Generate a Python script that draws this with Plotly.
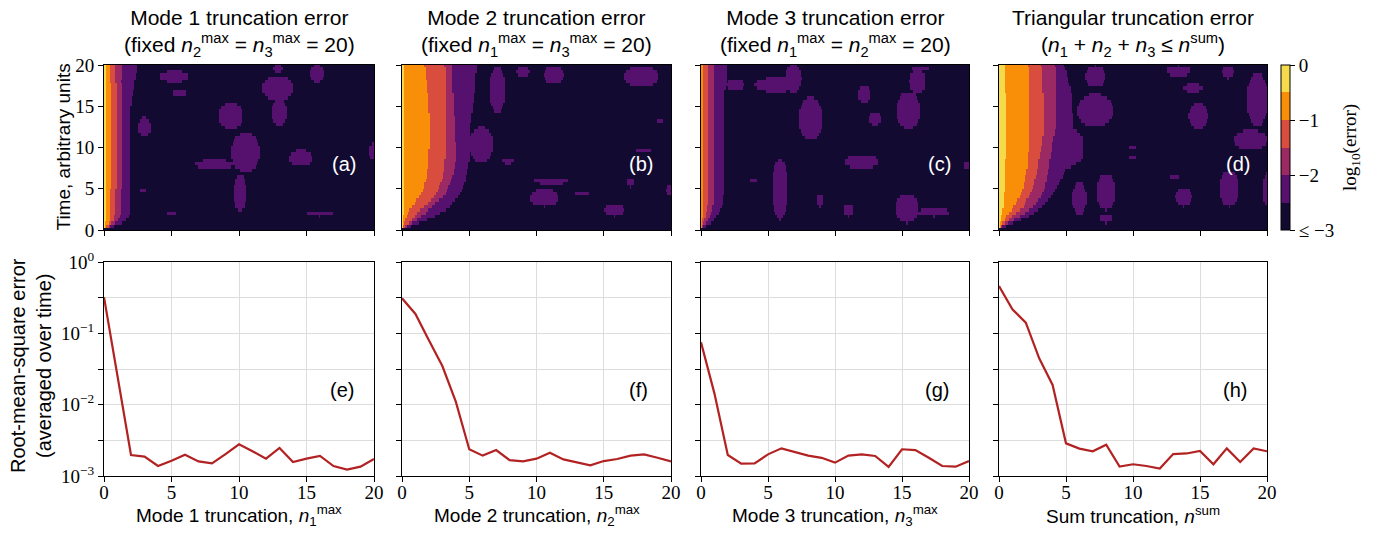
import numpy as np
import plotly.graph_objects as go

# ---------------- line-plot data (RMS error averaged over time) ----------------
n_trunc = list(range(21))
rms_mode1 = [0.32, 0.025, 1.97e-3, 1.87e-3, 1.38e-3, 1.64e-3, 1.99e-3, 1.60e-3, 1.50e-3, 2.03e-3,
             2.78e-3, 2.22e-3, 1.75e-3, 2.47e-3, 1.57e-3, 1.75e-3, 1.91e-3, 1.38e-3, 1.23e-3, 1.35e-3, 1.73e-3]
rms_mode2 = [0.31, 0.187, 0.080, 0.0348, 0.011, 2.37e-3, 1.93e-3, 2.31e-3, 1.67e-3, 1.60e-3,
             1.75e-3, 2.12e-3, 1.71e-3, 1.55e-3, 1.41e-3, 1.62e-3, 1.73e-3, 1.93e-3, 2.01e-3, 1.80e-3, 1.60e-3]
rms_mode3 = [0.0748, 0.0144, 1.97e-3, 1.49e-3, 1.50e-3, 2.01e-3, 2.44e-3, 2.17e-3, 1.93e-3, 1.80e-3,
             1.54e-3, 1.93e-3, 2.01e-3, 1.91e-3, 1.34e-3, 2.37e-3, 2.31e-3, 1.80e-3, 1.38e-3, 1.35e-3, 1.62e-3]
rms_sum = [0.461, 0.217, 0.141, 0.0446, 0.0189, 2.87e-3, 2.42e-3, 2.22e-3, 2.75e-3, 1.36e-3,
           1.46e-3, 1.38e-3, 1.27e-3, 2.03e-3, 2.07e-3, 2.24e-3, 1.46e-3, 2.44e-3, 1.57e-3, 2.44e-3, 2.22e-3]

x_ticks = [0, 5, 10, 15, 20]
time_ticks = [0, 5, 10, 15, 20]
cbar_tickvals = [-3, -2, -1, 0]
cbar_ticktext = ["≤ −3", "−2", "−1", "0"]
log_major = [-3, -2, -1, 0]
log_minor = [-2.5, -1.5, -0.5]
log_ticktext = ["10<sup>−3</sup>", "10<sup>−2</sup>", "10<sup>−1</sup>", "10<sup>0</sup>"]

# ---------------- heatmap data: contour-band edges (x where log10 error crosses a level) ----------------
# levels: -0.5 (yellow edge), -1 (orange), -1.5 (red), -2 (magenta), -2.5 (purple)
t_edge_a = [0, 0.4, 1.0, 2.0, 5, 10, 15, 18, 20]
yellow_a = [0, 0.05, 0.1, 0.15, 0.15, 0.15, 0.15, 0.15, 0.15]
orange_a = [0, 0.2, 0.4, 0.5, 0.5, 0.55, 0.55, 0.5, 0.5]
red_a = [0, 0.35, 0.7, 0.85, 0.9, 0.95, 0.95, 0.9, 0.9]
magenta_a = [0, 0.5, 1.0, 1.25, 1.3, 1.35, 1.35, 1.3, 1.35]
purple_a = [0, 0.8, 1.6, 2.0, 2.0, 1.95, 2.0, 2.3, 2.5]
blobs_a = [(3.0, 12.5, 0.45, 1.2), (5.2, 18.6, 1.1, 0.7), (5.6, 16.6, 0.6, 0.35), (9.4, 13.8, 0.9, 1.6),
           (10.5, 9.4, 1.1, 2.4), (8.2, 7.9, 1.5, 0.6), (10.1, 4.5, 0.45, 2.3), (12.9, 17.2, 1.15, 1.6),
           (13.0, 14.3, 0.6, 1.6), (12.9, 19.6, 0.35, 0.5), (14.6, 8.7, 0.9, 1.0), (15.8, 19.0, 0.55, 1.1),
           (20.0, 9.5, 0.4, 1.0), (16.0, 1.9, 1.0, 0.3), (2.9, 4.9, 0.3, 0.2), (5.0, 2.0, 0.35, 0.15)]

t_edge_b = [0, 0.6, 1.6, 2.8, 3.6, 4.4, 6.5, 8.5, 12.5, 16.6, 20]
yellow_b = [0, 0.05, 0.1, 0.15, 0.15, 0.15, 0.15, 0.15, 0.15, 0.15, 0.15]
orange_b = [0, 0.15, 0.35, 0.7, 1.1, 1.46, 1.83, 1.96, 2.08, 1.9, 1.7]
red_b = [0, 0.4, 0.97, 1.6, 2.2, 2.6, 3.07, 3.2, 3.3, 3.25, 3.2]
magenta_b = [0, 0.6, 1.46, 2.2, 2.8, 3.3, 3.8, 4.06, 3.95, 3.8, 3.8]
purple_b = [0, 1.0, 2.45, 3.6, 3.94, 4.4, 4.8, 5.06, 5.06, 5.4, 5.55]
blobs_b = [(7.1, 17.0, 0.6, 2.9), (9.0, 19.2, 0.5, 0.6), (11.3, 18.8, 0.75, 1.1), (17.8, 18.6, 1.3, 1.3),
           (5.9, 10.3, 0.9, 2.2), (7.9, 8.3, 0.45, 0.4), (10.6, 3.9, 1.05, 1.1), (11.1, 5.9, 1.3, 0.4),
           (17.0, 5.7, 0.3, 0.5), (18.0, 9.7, 0.6, 0.25), (15.8, 2.4, 0.7, 0.8), (20.0, 4.8, 0.3, 0.7),
           (13.4, 4.4, 0.5, 0.4), (19.2, 13.2, 0.25, 0.2)]

t_edge_c = [0, 0.6, 1.6, 2.8, 5, 10, 15, 17, 18.5, 20]
yellow_c = [0, 0, 0, 0, 0, 0, 0, 0, 0, 0]
orange_c = [0, 0.05, 0.12, 0.18, 0.2, 0.2, 0.2, 0.2, 0.2, 0.2]
red_c = [0, 0.15, 0.35, 0.5, 0.55, 0.55, 0.55, 0.55, 0.55, 0.55]
magenta_c = [0, 0.3, 0.7, 0.9, 1.0, 1.0, 1.0, 1.0, 1.0, 1.0]
purple_c = [0, 0.6, 1.2, 1.6, 1.75, 1.75, 1.75, 1.8, 2.0, 2.0]
blobs_c = [(5.6, 17.6, 1.6, 0.9), (6.9, 18.4, 0.6, 1.7), (8.2, 13.5, 0.9, 2.6), (12.2, 16.5, 0.5, 1.1),
           (13.0, 13.5, 0.45, 0.8), (15.5, 14.5, 0.9, 2.3), (16.2, 18.0, 0.6, 1.5), (16.4, 19.5, 0.7, 0.3),
           (5.9, 4.9, 0.6, 3.7), (12.0, 8.3, 1.3, 0.9), (15.4, 2.6, 0.9, 1.8), (17.4, 2.1, 1.2, 0.5),
           (18.2, 4.2, 0.4, 0.2), (8.9, 3.6, 0.25, 0.8), (11.0, 2.4, 0.35, 0.8), (19.9, 7.8, 0.25, 0.5),
           (3.9, 6.0, 0.25, 0.2), (2.6, 17.6, 0.7, 0.6)]

t_edge_d = [0, 0.6, 1.6, 2.8, 4.4, 7.3, 8.5, 11.3, 12.3, 14.3, 16.6, 20]
yellow_d = [0, 0.05, 0.2, 0.35, 0.4, 0.5, 0.5, 0.55, 0.55, 0.55, 0.5, 0.45]
orange_d = [0, 0.2, 0.6, 1.07, 1.7, 2.1, 2.15, 2.3, 2.3, 2.3, 2.25, 2.2]
red_d = [0, 0.3, 1.0, 1.8, 2.4, 2.9, 3.0, 3.3, 3.35, 3.4, 3.3, 3.2]
magenta_d = [0, 0.45, 1.57, 2.6, 3.3, 3.7, 3.8, 4.06, 4.2, 4.3, 4.25, 4.2]
purple_d = [0, 0.8, 2.3, 3.3, 4.06, 5.0, 6.3, 6.3, 5.6, 5.5, 5.4, 4.9]
blobs_d = [(7.2, 18.6, 0.75, 1.4), (7.2, 14.5, 1.35, 2.0), (13.4, 19.3, 0.9, 0.7), (14.5, 17.2, 0.75, 0.5),
           (14.9, 13.8, 0.75, 1.6), (17.1, 19.2, 0.45, 0.8), (19.3, 15.8, 0.8, 3.3), (18.8, 10.9, 1.3, 1.2),
           (17.2, 5.0, 0.7, 2.2), (13.8, 4.0, 0.6, 1.2), (13.1, 6.5, 0.35, 0.2), (20.0, 4.9, 0.3, 2.0),
           (6.0, 3.8, 0.55, 2.0), (8.0, 4.6, 0.7, 2.2), (8.0, 1.4, 0.45, 0.6), (10.0, 9.9, 0.3, 0.2),
           (10.0, 8.7, 0.3, 0.2)]

band_colors = ["#120a31", "#56106e", "#9b2964", "#d94d3e", "#f98e09", "#f5db4b"]
line_color = "#b22222"

top_titles = [
    "Mode 1 truncation error<br>(fixed <i>n</i><sub>2</sub><sup>max</sup> = <i>n</i><sub>3</sub><sup>max</sup> = 20)",
    "Mode 2 truncation error<br>(fixed <i>n</i><sub>1</sub><sup>max</sup> = <i>n</i><sub>3</sub><sup>max</sup> = 20)",
    "Mode 3 truncation error<br>(fixed <i>n</i><sub>1</sub><sup>max</sup> = <i>n</i><sub>2</sub><sup>max</sup> = 20)",
    "Triangular truncation error<br>(<i>n</i><sub>1</sub> + <i>n</i><sub>2</sub> + <i>n</i><sub>3</sub> ≤ <i>n</i><sup>sum</sup>)",
]
x_titles = [
    "Mode 1 truncation, <i>n</i><sub>1</sub><sup>max</sup>",
    "Mode 2 truncation, <i>n</i><sub>2</sub><sup>max</sup>",
    "Mode 3 truncation, <i>n</i><sub>3</sub><sup>max</sup>",
    "Sum truncation, <i>n</i><sup>sum</sup>",
]
top_labels = ["(a)", "(b)", "(c)", "(d)"]
bottom_labels = ["(e)", "(f)", "(g)", "(h)"]

# ---------------- build gridded band maps from the edges ----------------
xg = np.linspace(0, 20, 201)
tg = np.linspace(0, 20, 51)


def build_field(tk, edges, blobs):
    X, T = np.meshgrid(xg, tg)
    band = np.zeros_like(X)
    for e in edges:
        ev = np.interp(tg, tk, e)[:, None]
        band += (X < ev)
    for bx, bt, wx, wt in blobs:
        inside = ((X - bx) / wx) ** 2 + ((T - bt) / wt) ** 2 <= 1
        band = np.where(inside, np.maximum(band, 1), band)
    return -2.75 + 0.5 * band


fields = [
    build_field(t_edge_a, [yellow_a, orange_a, red_a, magenta_a, purple_a], blobs_a),
    build_field(t_edge_b, [yellow_b, orange_b, red_b, magenta_b, purple_b], blobs_b),
    build_field(t_edge_c, [yellow_c, orange_c, red_c, magenta_c, purple_c], blobs_c),
    build_field(t_edge_d, [yellow_d, orange_d, red_d, magenta_d, purple_d], blobs_d),
]

colorscale = []
for i, c in enumerate(band_colors):
    colorscale.append([i / 6, c])
    colorscale.append([(i + 1) / 6, c])

# ---------------- layout geometry ----------------
W, H = 1385, 533
ML, MR, MT, MB = 104, 118, 65, 57
PW = W - ML - MR
PH = H - MT - MB
col_px = [(104, 374), (402, 671), (701, 969), (999, 1267)]
top_px = (65, 230)
bot_px = (262, 476)


def fx(px):
    return (px - ML) / PW


def fy(py):
    return (H - MB - py) / PH


sans = "Liberation Sans, Arial, sans-serif"
serif = "Liberation Serif, DejaVu Serif, serif"

fig = go.Figure()
layout = dict(
    width=W, height=H,
    margin=dict(l=ML, r=MR, t=MT, b=MB),
    paper_bgcolor="white", plot_bgcolor="white",
    showlegend=False,
    font=dict(family=sans, size=19, color="black"),
)
annotations = []

for i in range(4):
    xa_top = "x%d" % (i + 1) if i > 0 else "x"
    ya_top = "y%d" % (i + 1) if i > 0 else "y"
    xa_bot = "x%d" % (i + 5)
    ya_bot = "y%d" % (i + 5)
    dom_x = [fx(col_px[i][0]), fx(col_px[i][1])]

    hm = dict(
        x=xg, y=tg, z=fields[i], colorscale=colorscale, zmin=-3, zmax=0,
        xaxis=xa_top, yaxis=ya_top, hoverinfo="skip", showscale=(i == 0),
    )
    if i == 0:
        hm["colorbar"] = dict(
            x=fx(1281), xanchor="left", xpad=0, ypad=0,
            y=fy(147.5), yanchor="middle", len=165, lenmode="pixels",
            thickness=9, outlinewidth=1, outlinecolor="black",
            tickvals=cbar_tickvals, ticktext=cbar_ticktext, ticks="outside",
            ticklen=5, tickcolor="black", tickfont=dict(family=serif, size=19),
        )
    fig.add_trace(go.Heatmap(**hm))

    rms = [rms_mode1, rms_mode2, rms_mode3, rms_sum][i]
    fig.add_trace(go.Scatter(x=n_trunc, y=rms, mode="lines", line=dict(color=line_color, width=2.2),
                             xaxis=xa_bot, yaxis=ya_bot, hoverinfo="skip"))

    axis_common = dict(showline=True, mirror=True, linecolor="black", linewidth=1,
                       ticks="outside", ticklen=5, tickcolor="black", zeroline=False)

    layout["xaxis%s" % ("" if i == 0 else i + 1)] = dict(
        domain=dom_x, range=[0, 20], tickvals=x_ticks, showticklabels=False, showgrid=False,
        anchor=ya_top, **axis_common)
    layout["yaxis%s" % ("" if i == 0 else i + 1)] = dict(
        domain=[fy(top_px[1]), fy(top_px[0])], range=[0, 20], tickvals=time_ticks,
        showticklabels=(i == 0), showgrid=False, anchor=xa_top,
        tickfont=dict(family=serif, size=19), **axis_common)
    layout["xaxis%d" % (i + 5)] = dict(
        domain=dom_x, range=[0, 20], tickvals=x_ticks, showgrid=True, gridcolor="#dddddd",
        gridwidth=1, anchor=ya_bot, tickfont=dict(family=serif, size=19),
        ticklabelstandoff=-6, **axis_common)
    layout["yaxis%d" % (i + 5)] = dict(
        domain=[fy(bot_px[1]), fy(bot_px[0])], type="log", range=[-3, 0],
        tickvals=[10 ** v for v in log_major], ticktext=log_ticktext,
        minor=dict(tickvals=[10 ** v for v in log_minor], ticks="outside", ticklen=5,
                   tickcolor="black", showgrid=True, gridcolor="#dddddd", gridwidth=1),
        showticklabels=(i == 0), showgrid=True, gridcolor="#dddddd", gridwidth=1,
        anchor=xa_bot, tickfont=dict(family=serif, size=19), **axis_common)

    cx = fx((col_px[i][0] + col_px[i][1]) / 2)
    annotations.append(dict(text=top_titles[i], x=cx, y=fy(33), xref="paper", yref="paper",
                            showarrow=False, xanchor="center", yanchor="middle",
                            font=dict(family=sans, size=21)))
    annotations.append(dict(text=x_titles[i], x=cx, y=fy(515), xref="paper", yref="paper",
                            showarrow=False, xanchor="center", yanchor="middle",
                            font=dict(family=sans, size=19)))
    annotations.append(dict(text=top_labels[i], x=17.8, y=8.0, xref=xa_top, yref=ya_top,
                            showarrow=False, font=dict(family=sans, size=20, color="white")))
    annotations.append(dict(text=bottom_labels[i], x=17.6, y=-1.8, xref=xa_bot, yref=ya_bot,
                            showarrow=False, font=dict(family=sans, size=20, color="black")))

annotations.append(dict(text="Time, arbitrary units", x=fx(63), y=fy(147.5), xref="paper", yref="paper",
                        showarrow=False, textangle=-90, xanchor="center", yanchor="middle",
                        font=dict(family=sans, size=19)))
annotations.append(dict(text="Root-mean-square error<br>(averaged over time)", x=fx(31), y=fy(366),
                        xref="paper", yref="paper", showarrow=False, textangle=-90,
                        xanchor="center", yanchor="middle", font=dict(family=sans, size=20)))
annotations.append(dict(text="log<sub>10</sub>(error)", x=fx(1351), y=fy(148), xref="paper", yref="paper",
                        showarrow=False, textangle=-90, xanchor="center", yanchor="middle",
                        font=dict(family=serif, size=19)))

layout["annotations"] = annotations
fig.update_layout(**layout)
fig.write_html("out.html", config={"displayModeBar": False},
               post_script="document.body.style.margin='0px';document.body.style.overflow='hidden';")
